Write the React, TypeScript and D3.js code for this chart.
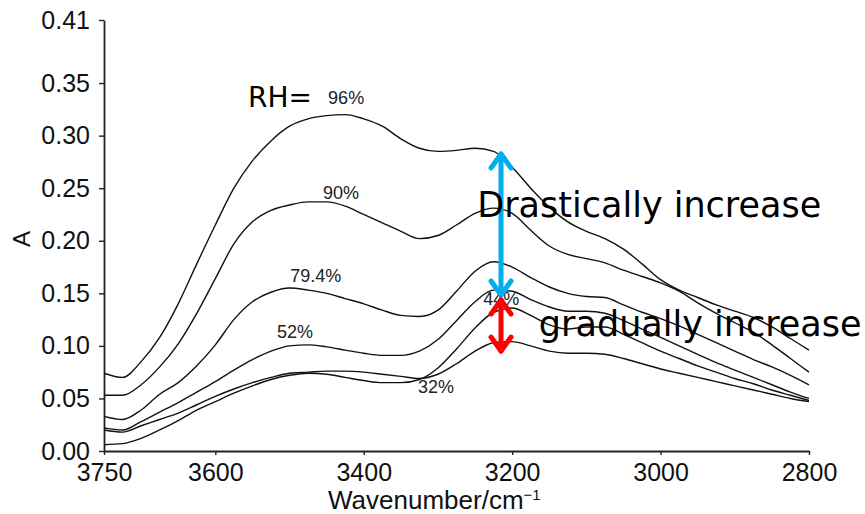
import React, { useEffect, useRef } from 'react';
import * as d3 from 'd3';

// FTIR absorbance spectra of adsorbed water at several relative humidities
const wavenumbers = [3750, 3725, 3700, 3675, 3650, 3625, 3600, 3575, 3550, 3525, 3500, 3475, 3450, 3425, 3400, 3375, 3350, 3325, 3300, 3275, 3250, 3225, 3200, 3175, 3150, 3125, 3100, 3075, 3050, 3025, 3000, 2975, 2950, 2925, 2900, 2875, 2850, 2825, 2800];

const rh96 = [0.074, 0.070, 0.085, 0.108, 0.140, 0.178, 0.215, 0.250, 0.276, 0.295, 0.309, 0.316, 0.319, 0.320, 0.316, 0.309, 0.297, 0.288, 0.285, 0.286, 0.288, 0.285, 0.270, 0.250, 0.232, 0.218, 0.209, 0.202, 0.192, 0.178, 0.163, 0.153, 0.146, 0.139, 0.133, 0.127, 0.118, 0.107, 0.096];
const rh90 = [0.053, 0.053, 0.063, 0.080, 0.102, 0.131, 0.164, 0.197, 0.218, 0.229, 0.234, 0.237, 0.237, 0.233, 0.225, 0.217, 0.209, 0.202, 0.205, 0.215, 0.226, 0.231, 0.226, 0.210, 0.195, 0.187, 0.183, 0.179, 0.172, 0.166, 0.160, 0.152, 0.141, 0.131, 0.122, 0.113, 0.101, 0.088, 0.075];
const rh794 = [0.033, 0.030, 0.039, 0.054, 0.065, 0.081, 0.101, 0.125, 0.142, 0.151, 0.155, 0.153, 0.150, 0.145, 0.140, 0.134, 0.129, 0.128, 0.134, 0.152, 0.171, 0.180, 0.175, 0.165, 0.156, 0.150, 0.147, 0.146, 0.139, 0.132, 0.126, 0.119, 0.111, 0.103, 0.095, 0.087, 0.080, 0.072, 0.063];
const rh52 = [0.022, 0.020, 0.028, 0.037, 0.046, 0.056, 0.066, 0.077, 0.087, 0.095, 0.100, 0.101, 0.099, 0.096, 0.093, 0.091, 0.091, 0.095, 0.106, 0.124, 0.142, 0.153, 0.152, 0.144, 0.137, 0.133, 0.133, 0.131, 0.124, 0.116, 0.108, 0.100, 0.092, 0.084, 0.077, 0.070, 0.063, 0.056, 0.050];
const rh44 = [0.006, 0.007, 0.012, 0.020, 0.029, 0.039, 0.047, 0.055, 0.062, 0.068, 0.072, 0.074, 0.073, 0.070, 0.067, 0.065, 0.065, 0.068, 0.079, 0.097, 0.117, 0.132, 0.136, 0.129, 0.120, 0.116, 0.118, 0.118, 0.111, 0.103, 0.095, 0.088, 0.081, 0.075, 0.069, 0.064, 0.058, 0.053, 0.048];
const rh32 = [0.020, 0.018, 0.024, 0.030, 0.036, 0.044, 0.052, 0.059, 0.065, 0.070, 0.074, 0.075, 0.076, 0.076, 0.075, 0.073, 0.071, 0.069, 0.073, 0.083, 0.095, 0.103, 0.104, 0.100, 0.095, 0.093, 0.093, 0.092, 0.088, 0.083, 0.078, 0.074, 0.070, 0.066, 0.062, 0.058, 0.054, 0.050, 0.047];

const seriesLabels = ['96%', '90%', '79.4%', '52%', '44%', '32%'];
const labelWavenumbers = [3448, 3455, 3499, 3517, 3239, 3327];
const labelValues = [0.330, 0.240, 0.161, 0.1075, 0.139, 0.055];

const yTicks = [0, 0.05, 0.1, 0.15, 0.2, 0.25, 0.3, 0.35, 0.41];
const xTicks = [3750, 3600, 3400, 3200, 3000, 2800];

// annotation arrows at the 3215 cm-1 band
const arrowWavenumber = 3215;
const blueArrow = [0.2845, 0.1465];
const redArrow = [0.1456, 0.0932];

export default function App() {
  const ref = useRef<SVGSVGElement | null>(null);

  useEffect(() => {
    const width = 865;
    const height = 514;
    const margin = { top: 20, right: 56, bottom: 63, left: 104 };

    const svg = d3.select(ref.current);
    svg.selectAll('*').remove();

    const x = d3.scaleLinear().domain([3750, 2800]).range([margin.left, width - margin.right]);
    const y = d3.scaleLinear().domain([0, 0.41]).range([height - margin.bottom, margin.top]);

    const series = [rh96, rh90, rh794, rh52, rh44, rh32];

    const line = d3.line<number>()
      .x((_, i) => x(wavenumbers[i]))
      .y(d => y(d))
      .curve(d3.curveMonotoneX);

    // axes
    const yAxis = svg.append('g')
      .attr('transform', `translate(${margin.left},0)`)
      .call(d3.axisLeft(y).tickValues(yTicks).tickFormat(d3.format('.2f')).tickSize(5).tickPadding(9).tickSizeOuter(0));
    const xAxis = svg.append('g')
      .attr('transform', `translate(0,${height - margin.bottom})`)
      .call(d3.axisBottom(x).tickValues(xTicks).tickFormat(d3.format('d')).tickSize(4).tickPadding(8).tickSizeOuter(0));

    [yAxis, xAxis].forEach(g => {
      g.select('.domain').attr('stroke', '#222').attr('stroke-width', 1.8);
      g.selectAll('.tick line').attr('stroke', '#222').attr('stroke-width', 1.4);
      g.selectAll('.tick text')
        .attr('fill', '#111')
        .style('font-family', '"Liberation Sans", Arial, sans-serif')
        .style('font-size', '25px');
    });

    svg.append('text')
      .attr('transform', 'translate(24,239) rotate(-90)')
      .attr('text-anchor', 'middle')
      .attr('dominant-baseline', 'middle')
      .style('font-family', '"Liberation Sans", Arial, sans-serif')
      .style('font-size', '24px')
      .attr('fill', '#111')
      .text('A');

    const xl = svg.append('text')
      .attr('x', 328)
      .attr('y', 509)
      .style('font-family', '"Liberation Sans", Arial, sans-serif')
      .style('font-size', '26px')
      .attr('fill', '#111')
      .text('Wavenumber/cm');
    xl.append('tspan')
      .attr('dy', -9)
      .style('font-size', '15px')
      .text('\u22121');

    // spectra
    svg.append('g')
      .selectAll('path')
      .data(series)
      .join('path')
      .attr('d', d => line(d))
      .attr('fill', 'none')
      .attr('stroke', '#111')
      .attr('stroke-width', 1.4);

    // RH labels
    svg.append('text')
      .attr('x', x(3556))
      .attr('y', y(0.327))
      .style('font-family', '"DejaVu Sans", sans-serif')
      .style('font-size', '28px')
      .attr('fill', '#000')
      .text('RH=');

    svg.append('g')
      .selectAll('text')
      .data(seriesLabels)
      .join('text')
      .attr('x', (_, i) => x(labelWavenumbers[i]))
      .attr('y', (_, i) => y(labelValues[i]))
      .style('font-family', '"Liberation Sans", Arial, sans-serif')
      .style('font-size', '18px')
      .attr('fill', '#222')
      .text(d => d);

    // arrows
    const drawArrow = (vals: number[], color: string) => {
      const ax = x(arrowWavenumber);
      const y1 = y(vals[0]);
      const y2 = y(vals[1]);
      const g = svg.append('g')
        .attr('stroke', color)
        .attr('stroke-width', 5)
        .attr('fill', 'none')
        .attr('stroke-linecap', 'round')
        .attr('stroke-linejoin', 'round');
      g.append('line').attr('x1', ax).attr('x2', ax).attr('y1', y1 + 2).attr('y2', y2 - 2);
      g.append('polyline').attr('points', `${ax - 10},${y1 + 16} ${ax},${y1 + 2} ${ax + 10},${y1 + 16}`);
      g.append('polyline').attr('points', `${ax - 10},${y2 - 16} ${ax},${y2 - 2} ${ax + 10},${y2 - 16}`);
    };
    drawArrow(blueArrow, '#00AEEF');
    drawArrow(redArrow, '#FF0000');

    // overlay captions
    svg.append('text')
      .attr('x', x(3247))
      .attr('y', y(0.2226))
      .style('font-family', '"DejaVu Sans", sans-serif')
      .style('font-size', '35px')
      .attr('fill', '#000')
      .text('Drastically increase');

    svg.append('text')
      .attr('x', x(3164))
      .attr('y', y(0.1094))
      .style('font-family', '"DejaVu Sans", sans-serif')
      .style('font-size', '35px')
      .attr('fill', '#000')
      .text('gradually increase');
  }, []);

  return (
    <svg
      ref={ref}
      width={865}
      height={514}
      viewBox="0 0 865 514"
      style={{ position: 'absolute', left: 0, top: 0, background: '#fff', display: 'block' }}
    />
  );
}
